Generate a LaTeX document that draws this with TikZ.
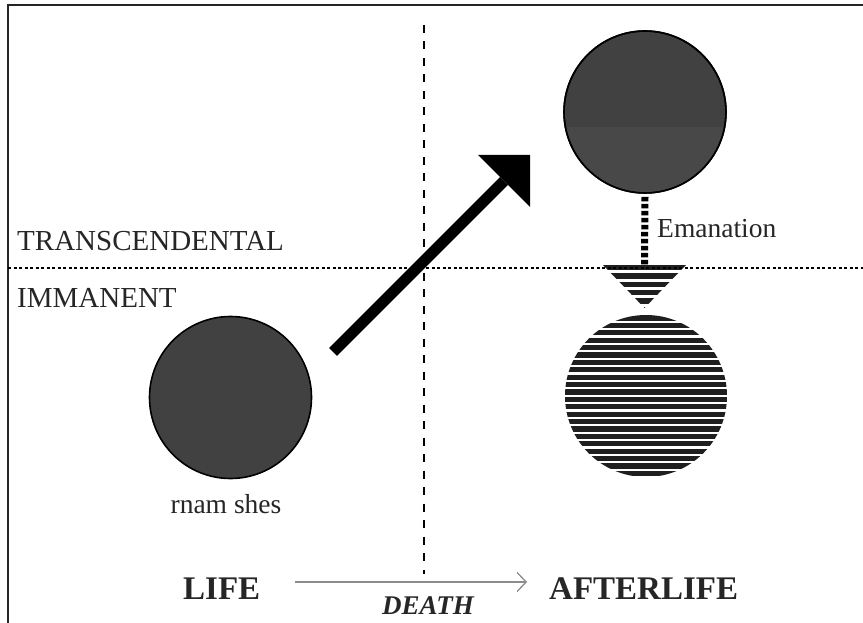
\documentclass[tikz,border=0pt]{standalone}
\usepackage{fontspec}
\setmainfont{Liberation Serif}
\usetikzlibrary{arrows.meta}
\definecolor{disc}{HTML}{414141}
\definecolor{discb}{HTML}{484848}
\tikzset{
  disc/.style={circle, minimum size=162pt, inner sep=0pt, fill=disc, draw=black, line width=1.6pt},
  lbl/.style={inner sep=0pt, text=black!85},
  frameline/.style={line width=2.5pt, draw=black!85},
  dashv/.style={line width=2.5pt, dash pattern=on 8pt off 8.5pt},
  doth/.style={line width=2.2pt, dash pattern=on 3pt off 2.5pt},
  emline/.style={line width=7pt, dash pattern=on 4.5pt off 2.5pt},
  stripe/.style={line width=5.3pt, draw=black!88},
  bigarrow/.style={line width=11pt, line cap=butt},
  deatharrow/.style={draw=black!45, line width=1.3pt, -{Straight Barb[length=9pt,width=19pt,line width=1.3pt]}}
}
\begin{document}
\begin{tikzpicture}[x=1pt,y=-1pt]
\useasboundingbox (0,0) rectangle (863,623);
\fill[white] (0,0) rectangle (863,623);
% frame
\draw[frameline] (8,623) -- (8,5) -- (863,5);
% axes
\draw[dashv] (424,25) -- (424,574);
% circles
\node[disc] (upper) at (645,112) {};
\begin{scope}
  \clip (645,112) circle (80pt);
  \fill[discb] (560,127) rectangle (730,200);
\end{scope}
\draw[black, line width=1.6pt] (upper) circle (81pt);
\node[disc] (rnam) at (230.5,397.5) {};
\node[circle, minimum size=162pt, inner sep=0pt] (lower) at (646,396) {};
% striped circle
\begin{scope}
  \clip (646,396) circle (81pt);
  \foreach \k in {0,...,22} {
    \draw[stripe] (560,{318+7.4*\k}) -- (735,{318+7.4*\k});
  }
\end{scope}
% striped triangle
\coordinate (tl) at (603,265);
\coordinate (tr) at (686,265);
\coordinate (tip) at (644.5,308);
\begin{scope}
  \clip (tl) -- (tr) -- (tip) -- cycle;
  \foreach \k in {0,...,5} {
    \draw[stripe] (600,{267.5+8.4*\k}) -- (690,{267.5+8.4*\k});
  }
\end{scope}
% emanation connector
\coordinate (emend) at (644.5,265);
\draw[emline] (upper.south) ++(0,3) -- (emend);
% horizontal dotted line
\draw[doth] (8,268) -- (863,268);
% big arrow
\coordinate (as) at (333,352);
\coordinate (ab) at (504,181);
\coordinate (ac) at (530,155);
\draw[bigarrow] (as) -- (ab);
\fill (478,155) -- (ac) -- (530,207) -- cycle;
% labels
\node[lbl, anchor=base west, font=\fontsize{29}{29}\selectfont] (trans) at (17,251) {TRANSCENDENTAL};
\node[lbl, anchor=base west, font=\fontsize{29}{29}\selectfont] (imm) at (17,307) {IMMANENT};
\node[lbl, anchor=base west, font=\fontsize{27.5}{27.5}\selectfont] (eman) at (657,237) {Emanation};
\node[lbl, anchor=base, font=\fontsize{27.5}{27.5}\selectfont] (rs) at (226,513) {rnam shes};
\node[lbl, anchor=base west, font=\bfseries\fontsize{33}{33}\selectfont] (life) at (183,599) {LIFE};
\node[lbl, anchor=base west, font=\bfseries\fontsize{33}{33}\selectfont] (after) at (549,599) {AFTERLIFE};
\node[lbl, anchor=base, font=\bfseries\itshape\fontsize{27}{27}\selectfont] (death) at (428,614) {DEATH};
% death arrow
\coordinate (ds) at (295,582);
\coordinate (de) at (527,582);
\draw[deatharrow] (ds) -- (de);
\end{tikzpicture}
\end{document}
